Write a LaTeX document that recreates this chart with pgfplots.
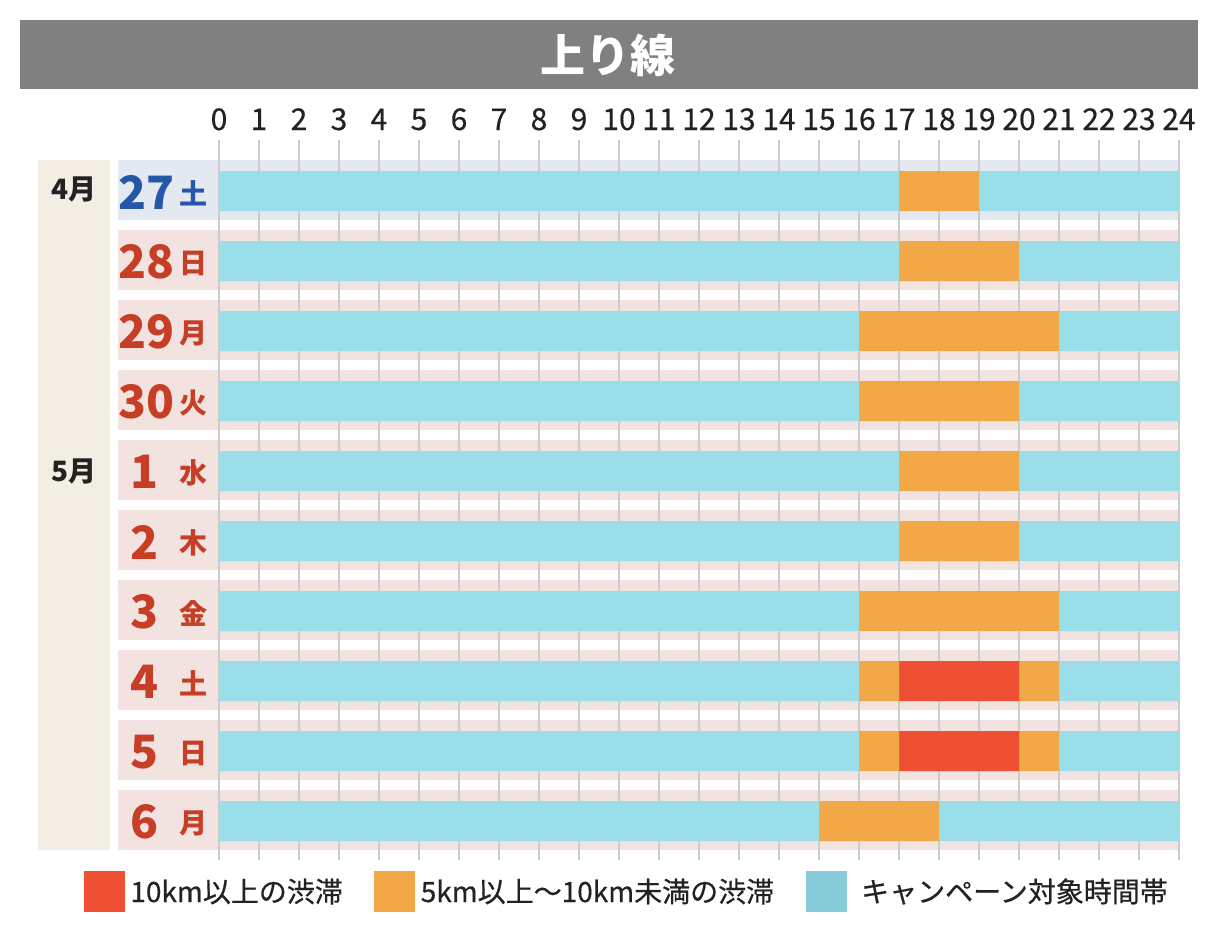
\documentclass[border=0pt]{standalone}
\usepackage{pgfplots}
\pgfplotsset{compat=1.18}
\usepackage{fontspec}
\setmainfont{Noto Sans CJK JP}
\newfontfamily\medfont{Noto Sans CJK JP}[FakeBold=0.5]
\definecolor{titlegray}{HTML}{808080}
\definecolor{rowblue}{HTML}{E4E8F0}
\definecolor{rowpink}{HTML}{F2E2E0}
\definecolor{monthbg}{HTML}{F2EEE3}
\definecolor{barcyan}{HTML}{9ADEEA}
\definecolor{barorange}{HTML}{F2A847}
\definecolor{barred}{HTML}{EF5034}
\definecolor{legcyan}{HTML}{89CCD9}
\definecolor{dayblue}{HTML}{2457A8}
\definecolor{dayred}{HTML}{C63E26}
\definecolor{gridgray}{HTML}{CCCCCC}
\definecolor{textdark}{HTML}{222222}
\begin{document}
\begin{tikzpicture}[x=1pt,y=1pt]
% decorative backgrounds (1px = 1pt; axis lower-left at (0,0) = pixel (219,860))
\path[use as bounding box] (-219,-80) rectangle (999,860);
\fill[titlegray] (-199,771) rectangle (979,840);
\fill[monthbg] (-181,10) rectangle (-109,700);
\fill[rowblue] (-101,640) rectangle (960,700);
\foreach \i in {1,...,9}{
  \fill[rowpink] (-101,{640-70*\i}) rectangle (960,{700-70*\i});
}
\begin{axis}[
  at={(0,0)}, anchor=south west,
  scale only axis, width=960pt, height=720pt,
  xmin=0, xmax=24, ymin=140, ymax=860, y dir=reverse,
  clip=false,
  axis line style={draw=none},
  xtick={0,...,24}, ytick=\empty,
  major tick length=0pt,
  xticklabel pos=upper,
  xmajorgrids, major grid style={draw=gridgray, line width=1.5pt},
  /pgf/number format/assume math mode=true,
  xticklabel style={font=\medfont\fontsize{30}{30}\selectfont, text=textdark, anchor=base, inner sep=0pt, yshift=10pt},
  xbar stacked, bar width=40pt,
  legend columns=3, legend cell align=left,
  legend style={at={(-0.140625,-0.04306)}, anchor=west, draw=none, fill=none,
    inner sep=0pt, outer sep=0pt, font=\medfont\fontsize{28}{28}\selectfont, text=textdark,
    nodes={inner sep=0pt, anchor=west},
    /tikz/every odd column/.append style={column sep=6pt},
    /tikz/every even column/.append style={column sep=0pt}},
]
\addlegendimage{legend image code/.code={\fill[barred] (0pt,-20pt) rectangle (40pt,20pt);}}
\addlegendentry{\makebox[244pt][l]{10km以上の渋滞}}
\addlegendimage{legend image code/.code={\fill[barorange] (0pt,-20pt) rectangle (40pt,20pt);}}
\addlegendentry{\makebox[385pt][l]{5km以上〜10km未満の渋滞}}
\addlegendimage{legend image code/.code={\fill[legcyan] (0pt,-20pt) rectangle (40pt,20pt);}}
\addlegendentry{\hspace{9pt}キャンペーン対象時間帯}

% cyan before congestion
\addplot[fill=barcyan, draw=none, forget plot] coordinates {(17,191) (17,261) (16,331) (16,401) (17,471) (17,541) (16,611) (16,681) (16,751) (15,821)};
% orange (5-10km)
\addplot[fill=barorange, draw=none, forget plot] coordinates {(2,191) (3,261) (5,331) (4,401) (3,471) (3,541) (5,611) (1,681) (1,751) (3,821)};
% red (10km+)
\addplot[fill=barred, draw=none, forget plot] coordinates {(0,191) (0,261) (0,331) (0,401) (0,471) (0,541) (0,611) (3,681) (3,751) (0,821)};
% orange after red
\addplot[fill=barorange, draw=none, forget plot] coordinates {(0,191) (0,261) (0,331) (0,401) (0,471) (0,541) (0,611) (1,681) (1,751) (0,821)};
% cyan remainder
\addplot[fill=barcyan, draw=none, forget plot] coordinates {(5,191) (4,261) (3,331) (4,401) (4,471) (4,541) (3,611) (3,681) (3,751) (6,821)};

% title
\node[font=\bfseries\fontsize{45}{45}\selectfont, text=white, inner sep=0pt] at (axis cs:9.72,55) {上り線};
% months
\node[font=\bfseries\fontsize{28}{28}\selectfont, text=textdark, inner sep=0pt] at (axis cs:-3.625,189) {4月};
\node[font=\bfseries\fontsize{28}{28}\selectfont, text=textdark, inner sep=0pt] at (axis cs:-3.625,471) {5月};
% days
\node[font=\bfseries\fontsize{46}{46}\selectfont, inner sep=0pt, text=dayblue] at (axis cs:-1.8,192) {27};
\node[font=\bfseries\fontsize{28}{28}\selectfont, inner sep=0pt, text=dayblue] at (axis cs:-0.63,193) {土};
\node[font=\bfseries\fontsize{46}{46}\selectfont, inner sep=0pt, text=dayred] at (axis cs:-1.8,262) {28};
\node[font=\bfseries\fontsize{28}{28}\selectfont, inner sep=0pt, text=dayred] at (axis cs:-0.63,263) {日};
\node[font=\bfseries\fontsize{46}{46}\selectfont, inner sep=0pt, text=dayred] at (axis cs:-1.8,332) {29};
\node[font=\bfseries\fontsize{28}{28}\selectfont, inner sep=0pt, text=dayred] at (axis cs:-0.63,333) {月};
\node[font=\bfseries\fontsize{46}{46}\selectfont, inner sep=0pt, text=dayred] at (axis cs:-1.8,402) {30};
\node[font=\bfseries\fontsize{28}{28}\selectfont, inner sep=0pt, text=dayred] at (axis cs:-0.63,403) {火};
\node[font=\bfseries\fontsize{46}{46}\selectfont, inner sep=0pt, text=dayred] at (axis cs:-1.85,472) {1};
\node[font=\bfseries\fontsize{28}{28}\selectfont, inner sep=0pt, text=dayred] at (axis cs:-0.63,473) {水};
\node[font=\bfseries\fontsize{46}{46}\selectfont, inner sep=0pt, text=dayred] at (axis cs:-1.85,542) {2};
\node[font=\bfseries\fontsize{28}{28}\selectfont, inner sep=0pt, text=dayred] at (axis cs:-0.63,543) {木};
\node[font=\bfseries\fontsize{46}{46}\selectfont, inner sep=0pt, text=dayred] at (axis cs:-1.85,612) {3};
\node[font=\bfseries\fontsize{28}{28}\selectfont, inner sep=0pt, text=dayred] at (axis cs:-0.63,613) {金};
\node[font=\bfseries\fontsize{46}{46}\selectfont, inner sep=0pt, text=dayred] at (axis cs:-1.85,682) {4};
\node[font=\bfseries\fontsize{28}{28}\selectfont, inner sep=0pt, text=dayred] at (axis cs:-0.63,683) {土};
\node[font=\bfseries\fontsize{46}{46}\selectfont, inner sep=0pt, text=dayred] at (axis cs:-1.85,752) {5};
\node[font=\bfseries\fontsize{28}{28}\selectfont, inner sep=0pt, text=dayred] at (axis cs:-0.63,753) {日};
\node[font=\bfseries\fontsize{46}{46}\selectfont, inner sep=0pt, text=dayred] at (axis cs:-1.85,822) {6};
\node[font=\bfseries\fontsize{28}{28}\selectfont, inner sep=0pt, text=dayred] at (axis cs:-0.63,823) {月};
\end{axis}
\end{tikzpicture}
\end{document}
